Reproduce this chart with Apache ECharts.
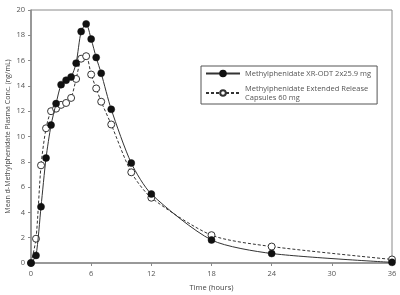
<!DOCTYPE html>
<html>
<head>
<meta charset="utf-8">
<script src="https://cdn.jsdelivr.net/npm/echarts@6/dist/echarts.min.js"></script>
<style>
    html, body { margin: 0; padding: 0; background: #fff; }
    #chart { width: 400px; height: 295px; }
</style>
</head>
<body>
<div id="chart"></div>
<script>
// sampling times (hours)
const times = [0, 0.5, 1, 1.5, 2, 2.5, 3, 3.5, 4, 4.5, 5, 5.5, 6, 6.5, 7, 8, 10, 12, 18, 24, 36];
// mean plasma conc. (ng/mL)
const xrOdt = [0, 0.6, 4.45, 8.3, 10.9, 12.6, 14.1, 14.45, 14.7, 15.8, 18.3, 18.9, 17.7, 16.25, 15.0, 12.15, 7.9, 5.45, 1.82, 0.75, 0.05];
const erCaps = [0, 1.92, 7.72, 10.65, 12.0, 12.2, 12.5, 12.65, 13.05, 14.55, 16.15, 16.35, 14.9, 13.8, 12.75, 10.95, 7.17, 5.16, 2.2, 1.3, 0.28];

const nameXr = 'Methylphenidate XR-ODT 2x25.9 mg';
const nameEr = 'Methylphenidate Extended Release Capsules 60 mg';

const pairs = (ys) => times.map((t, i) => [t, ys[i]]);

const myChart = echarts.init(document.getElementById('chart'));
const font = 'Open Sans';

const option = {
    animation: false,
    textStyle: { fontFamily: font },
    grid: {
        left: 31, right: 8, top: 10, bottom: 32,
        outerBoundsMode: 'none',
        containLabel: false,
        show: true, borderColor: '#8a8a8a', borderWidth: 1
    },
    legend: {
        orient: 'vertical',
        left: 201, top: 66,
        itemWidth: 34, itemHeight: 7,
        itemGap: 6,
        padding: [3, 6, 2, 4],
        borderColor: '#555',
        borderWidth: 1,
        textStyle: { fontSize: 7.5, color: '#555', fontFamily: font, lineHeight: 9 },
        formatter: (n) => n === nameEr ? 'Methylphenidate Extended Release\nCapsules 60 mg' : n,
        data: [nameXr, nameEr]
    },
    xAxis: {
        type: 'value',
        min: 0, max: 36, interval: 6,
        name: 'Time (hours)',
        nameLocation: 'middle',
        nameGap: 21,
        nameMoveOverlap: false,
        nameTextStyle: { fontSize: 7.5, color: '#444' },
        axisLine: { lineStyle: { color: '#8a8a8a', width: 1.5 } },
        axisTick: { show: true, length: 3, lineStyle: { color: '#8a8a8a' } },
        axisLabel: { fontSize: 7.5, color: '#555', margin: 7 },
        splitLine: { show: false }
    },
    yAxis: {
        type: 'value',
        min: 0, max: 20, interval: 2,
        name: 'Mean d-Methylphenidate Plasma Conc. (ng/mL)',
        nameLocation: 'middle',
        nameGap: 20,
        nameMoveOverlap: false,
        nameTextStyle: { fontSize: 7, color: '#444' },
        axisLine: { show: true, lineStyle: { color: '#8a8a8a', width: 1.5 } },
        axisTick: { show: true, length: 3, lineStyle: { color: '#8a8a8a' } },
        axisLabel: { fontSize: 7.5, color: '#555', margin: 6 },
        splitLine: { show: false }
    },
    series: [
        {
            name: nameXr,
            type: 'line',
            smooth: 0.25,
            data: pairs(xrOdt),
            symbol: 'circle',
            symbolSize: 7,
            itemStyle: { color: '#111', borderColor: '#111', borderWidth: 0.5 },
            lineStyle: { color: '#333', width: 1 },
            z: 3
        },
        {
            name: nameEr,
            type: 'line',
            smooth: 0.25,
            data: pairs(erCaps),
            symbol: 'circle',
            symbolSize: 7,
            itemStyle: { color: '#fff', borderColor: '#333', borderWidth: 1 },
            lineStyle: { color: '#333', width: 1, type: [3, 2] },
            z: 2
        }
    ]
};

myChart.setOption(option);
window.addEventListener('resize', () => {
    myChart.resize();
});
</script>
</body>
</html>
